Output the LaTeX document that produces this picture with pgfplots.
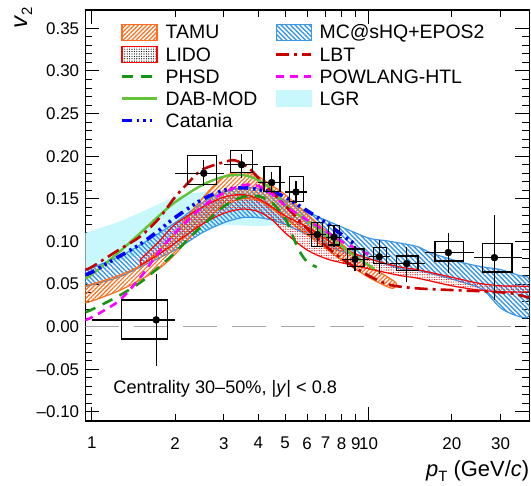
\documentclass[border=0pt]{standalone}
\usepackage{pgfplots}
\pgfplotsset{compat=1.18}
\usepackage{fontspec}
\setmainfont{Liberation Sans}
\usetikzlibrary{patterns.meta}

\definecolor{tamu}{RGB}{255,110,30}
\definecolor{lido}{RGB}{255,0,0}
\definecolor{phsd}{RGB}{20,150,20}
\definecolor{dab}{RGB}{98,195,55}
\definecolor{catania}{RGB}{0,0,255}
\definecolor{mcshq}{RGB}{60,150,232}
\definecolor{lbt}{RGB}{200,0,0}
\definecolor{powlang}{RGB}{255,0,255}
\definecolor{lgr}{RGB}{200,248,252}

\tikzset{
  phsdline/.style={phsd, line width=2.6bp, dash pattern=on 11bp off 8bp},
  dabline/.style={dab, line width=2.4bp},
  catanialine/.style={catania, line width=3.6bp, dash pattern=on 10bp off 5bp on 2.5bp off 4bp on 2.5bp off 4bp on 2.5bp off 5bp},
  lbtline/.style={lbt, line width=2.6bp, dash pattern=on 13bp off 5bp on 3bp off 5bp},
  powline/.style={powlang, line width=2.6bp, dash pattern=on 8bp off 6bp},
}

\begin{document}
\begin{tikzpicture}
\begin{axis}[
  name=ax,
  scale only axis,
  width=444bp, height=411bp,
  xmode=log,
  xmin=0.948, xmax=38.1,
  ymin=-0.1106, ymax=0.3715,
  xtick={1,10}, xticklabels={1,10},
  extra x ticks={2,3,4,5,6,7,8,9,20,30},
  extra x tick labels={2,3,4,5,6,7,8,9,20,30},
  extra x tick style={major tick length=7bp},
  minor xtick={},
  ytick={-0.10,-0.05,0,0.05,0.10,0.15,0.20,0.25,0.30,0.35},
  yticklabels={–0.10,–0.05,0.00,0.05,0.10,0.15,0.20,0.25,0.30,0.35},
  minor y tick num=4,
  major tick length=14bp, minor tick length=7bp,
  tick style={black, line width=1bp},
  axis line style={line width=1.5bp},
  tick label style={font=\fontsize{17}{20}\selectfont, inner sep=0pt},
  xticklabel style={yshift=-16bp},
  yticklabel style={xshift=-6bp},
  legend columns=2,
  legend cell align=left,
  legend image code/.code={\draw[#1] (0bp,0bp) -- (35bp,0bp);},
  legend style={draw=none, fill=none, at={(0.078,0.967)}, anchor=north west,
    inner sep=0pt, font=\fontsize{19.5}{21}\selectfont,
    row sep=5bp, column sep=7bp,
    /tikz/column 2/.style={column sep=17.5bp},
    nodes={inner sep=0pt, text height=15bp, text depth=2bp}},
]

% legend (row-wise: left column, right column)
\addlegendimage{legend image code/.code={\draw[pattern={Lines[angle=45,distance=3bp,line width=1.2bp]}, pattern color=tamu, draw=tamu, line width=1.2bp] (0bp,-8bp) rectangle (35bp,8bp);}}
\addlegendentry{TAMU}
\addlegendimage{legend image code/.code={\draw[pattern={Lines[angle=-45,distance=3.3bp,line width=1.4bp]}, pattern color=mcshq, draw=mcshq, line width=1.2bp] (0bp,-8bp) rectangle (35bp,8bp);}}
\addlegendentry{MC@sHQ+EPOS2}
\addlegendimage{legend image code/.code={\draw[pattern={Dots[distance=2.4bp,radius=0.6bp]}, pattern color=black, draw=lido, line width=1.2bp] (0bp,-8bp) rectangle (35bp,8bp);}}
\addlegendentry{LIDO}
\addlegendimage{lbtline}
\addlegendentry{LBT}
\addlegendimage{phsdline}
\addlegendentry{PHSD}
\addlegendimage{powline}
\addlegendentry{POWLANG-HTL}
\addlegendimage{dabline}
\addlegendentry{DAB-MOD}
\addlegendimage{legend image code/.code={\fill[lgr] (0bp,-8bp) rectangle (35bp,8bp);}}
\addlegendentry{LGR}
\addlegendimage{catanialine}
\addlegendentry{Catania}

% zero line
\addplot[gray!70, line width=1.3bp, dash pattern=on 34bp off 15bp] coordinates {(0.948,0) (38.1,0)};

% LGR band
\addplot[fill=lgr, draw=none, smooth, tension=0.5] coordinates {
  (0.948,0.110) (1.25,0.123) (1.5,0.134) (2,0.152) (2.5,0.158) (3,0.160) (4,0.156) (4.7,0.150) (5.0,0.146)
  (5.0,0.120) (4.5,0.119) (4,0.118) (3,0.119) (2.5,0.112) (2,0.100) (1.5,0.085) (1.2,0.075) (0.948,0.066)
} -- cycle;

% MC@sHQ+EPOS2 band
\addplot[pattern={Lines[angle=-45,distance=3.3bp,line width=1.4bp]}, pattern color=mcshq, draw=mcshq, line width=1.2bp, smooth, tension=0.5] coordinates {
  (0.948,0.067) (1,0.069) (1.25,0.082) (1.5,0.096) (2,0.122) (2.5,0.145) (3,0.158) (3.5,0.163) (4,0.162)
  (4.5,0.156) (5,0.148) (6,0.135) (7,0.125) (8,0.117) (10,0.104) (11.5,0.101) (13,0.098) (15,0.094)
  (17,0.086) (22,0.075) (26,0.070) (30,0.067) (35,0.060) (38.1,0.055)
  (38.1,0.014) (35,0.012) (30,0.022) (26,0.043) (22,0.052) (17,0.062) (15,0.066) (13,0.068) (10,0.080)
  (8,0.088) (7,0.097) (6,0.108) (5,0.120) (4.5,0.125) (4,0.128) (3.5,0.128) (3,0.122) (2.5,0.110)
  (2,0.090) (1.5,0.070) (1.25,0.058) (1,0.049) (0.948,0.047)
} -- cycle;

% TAMU band
\addplot[pattern={Lines[angle=45,distance=3bp,line width=1.2bp]}, pattern color=tamu, draw=tamu, line width=1.2bp, smooth, tension=0.5] coordinates {
  (0.948,0.048) (1,0.050) (1.25,0.060) (1.5,0.072) (1.75,0.090) (2,0.110) (2.5,0.150) (3,0.176)
  (3.5,0.181) (4,0.176) (4.5,0.165) (5,0.155) (6,0.132) (7,0.113) (8,0.097) (10,0.072) (11.5,0.060) (12.6,0.051)
  (12.3,0.045) (11.5,0.048) (10,0.058) (8,0.078) (7,0.092) (6,0.108) (5,0.127) (4.5,0.138) (4,0.148)
  (3.5,0.150) (3,0.142) (2.5,0.120) (2,0.085) (1.75,0.068) (1.5,0.055) (1.25,0.042) (1,0.030) (0.948,0.028)
} -- cycle;

% LIDO band
\addplot[pattern={Dots[distance=2.4bp,radius=0.6bp]}, pattern color=lido, draw=lido, line width=1.2bp, smooth, tension=0.5] coordinates {
  (1.5,0.079) (1.75,0.100) (2,0.120) (2.5,0.140) (3,0.152) (3.5,0.155) (4,0.150) (4.5,0.140) (5,0.130)
  (6,0.117) (7,0.103) (8,0.092) (10,0.080) (13,0.070) (15,0.067) (20,0.058) (25,0.051) (30,0.048) (38.1,0.047)
  (38.1,0.041) (30,0.041) (25,0.043) (20,0.048) (15,0.057) (13,0.060) (10,0.068) (8,0.075) (7,0.080)
  (6,0.090) (5,0.110) (4.5,0.125) (4,0.135) (3.5,0.138) (3,0.133) (2.5,0.120) (2,0.098) (1.75,0.085) (1.5,0.072)
} -- cycle;

% PHSD
\addplot[phsdline, smooth, tension=0.5] coordinates {
  (0.948,0.017) (1,0.020) (1.25,0.036) (1.5,0.052) (1.75,0.070) (2,0.087) (2.25,0.104) (2.5,0.118)
  (3,0.141) (3.5,0.152) (4,0.153) (4.5,0.145) (5,0.127) (5.3,0.108) (5.6,0.090) (6,0.076) (6.5,0.070)
};
% DAB-MOD
\addplot[dabline, smooth, tension=0.5] coordinates {
  (0.948,0.057) (1,0.061) (1.25,0.087) (1.5,0.110) (1.75,0.130) (2,0.146) (2.5,0.166) (3,0.176)
  (3.5,0.178) (4,0.172) (4.5,0.160) (5,0.143) (6,0.124) (7,0.108) (8,0.094) (9,0.082) (10.5,0.068)
};
% Catania
\addplot[catanialine, smooth, tension=0.5] coordinates {
  (0.948,0.061) (1,0.064) (1.25,0.082) (1.5,0.097) (1.75,0.113) (2,0.128) (2.5,0.149) (3,0.160)
  (3.5,0.163) (4,0.161) (4.5,0.158) (5,0.152) (6,0.136) (7,0.122) (8,0.108) (9,0.096)
};
% LBT
\addplot[lbtline, smooth, tension=0.5] coordinates {
  (0.948,0.067) (1,0.070) (1.25,0.090) (1.5,0.106) (1.75,0.127) (2,0.152) (2.25,0.170) (2.5,0.184)
  (3,0.193) (3.3,0.195) (3.7,0.186) (4.2,0.167) (5,0.142) (6,0.115) (7,0.095) (8,0.080) (10,0.060)
  (12,0.049) (15,0.045) (20,0.043) (28,0.041) (33,0.039) (38.1,0.034)
};
% POWLANG-HTL
\addplot[powline, smooth, tension=0.5] coordinates {
  (0.948,0.008) (1,0.011) (1.25,0.030) (1.5,0.058) (1.75,0.088) (2,0.110) (2.5,0.140) (3,0.157)
  (3.5,0.166) (4,0.165) (4.5,0.155) (5,0.142) (6,0.125) (7,0.112) (8,0.100) (9,0.092) (10,0.085)
};

% systematic boxes
\addplot[black, line width=1.3bp, line cap=rect, unbounded coords=jump] coordinates {
  (1.28,-0.0144) (1.88,-0.0144) (1.88,0.0313) (1.28,0.0313) (1.28,-0.0144) (nan,nan)
  (2.22,0.167) (2.83,0.167) (2.83,0.2006) (2.22,0.2006) (2.22,0.167) (nan,nan)
  (3.18,0.181) (3.80,0.181) (3.80,0.207) (3.18,0.207) (3.18,0.181) (nan,nan)
  (4.19,0.159) (4.79,0.159) (4.79,0.188) (4.19,0.188) (4.19,0.159) (nan,nan)
  (5.18,0.147) (5.82,0.147) (5.82,0.176) (5.18,0.176) (5.18,0.147) (nan,nan)
  (6.23,0.094) (6.82,0.094) (6.82,0.122) (6.23,0.122) (6.23,0.094) (nan,nan)
  (7.18,0.096) (7.84,0.096) (7.84,0.119) (7.18,0.119) (7.18,0.096) (nan,nan)
  (8.39,0.071) (9.62,0.071) (9.62,0.091) (8.39,0.091) (8.39,0.071) (nan,nan)
  (10.4,0.074) (11.6,0.074) (11.6,0.093) (10.4,0.093) (10.4,0.074) (nan,nan)
  (12.6,0.066) (15.1,0.066) (15.1,0.083) (12.6,0.083) (12.6,0.066) (nan,nan)
  (17.4,0.077) (22.1,0.077) (22.1,0.100) (17.4,0.100) (17.4,0.077) (nan,nan)
  (25.8,0.064) (33.0,0.064) (33.0,0.098) (25.8,0.098) (25.8,0.064)
};
% statistical error bars and bin widths
\addplot[black, line width=1.3bp, unbounded coords=jump] coordinates {
  (1,0.008) (2,0.008) (nan,nan) (1.71,-0.046) (1.71,0.062) (nan,nan)
  (2,0.180) (3,0.180) (nan,nan) (2.54,0.165) (2.54,0.1955) (nan,nan)
  (3,0.190) (4,0.190) (nan,nan) (3.48,0.175) (3.48,0.203) (nan,nan)
  (4,0.169) (5,0.169) (nan,nan) (4.47,0.157) (4.47,0.181) (nan,nan)
  (5,0.158) (6,0.158) (nan,nan) (5.47,0.145) (5.47,0.171) (nan,nan)
  (6,0.108) (7,0.108) (nan,nan) (6.53,0.094) (6.53,0.122) (nan,nan)
  (7,0.105) (8,0.105) (nan,nan) (7.51,0.093) (7.51,0.118) (nan,nan)
  (8,0.079) (10,0.079) (nan,nan) (8.94,0.065) (8.94,0.095) (nan,nan)
  (10,0.082) (12,0.082) (nan,nan) (10.94,0.062) (10.94,0.102) (nan,nan)
  (12,0.074) (16,0.074) (nan,nan) (13.74,0.053) (13.74,0.093) (nan,nan)
  (16,0.087) (24,0.087) (nan,nan) (19.43,0.063) (19.43,0.110) (nan,nan)
  (24,0.081) (36,0.081) (nan,nan) (28.5,0.031) (28.5,0.131)
};
% data points
\addplot[only marks, mark=*, mark size=3.5bp, black] coordinates {
  (1.71,0.008) (2.54,0.180) (3.48,0.190) (4.47,0.169) (5.47,0.158) (6.53,0.108)
  (7.51,0.105) (8.94,0.079) (10.94,0.082) (13.74,0.074) (19.43,0.087) (28.5,0.081)
};

\node[anchor=base west, inner sep=0pt, font=\fontsize{18.2}{20}\selectfont]
  at (rel axis cs:0.063,0.068) {Centrality 30–50\%, |\textit{y}| < 0.8};
\end{axis}

\node[rotate=90, anchor=east, inner sep=0pt, font=\fontsize{24}{24}\selectfont]
  at ([xshift=-62bp,yshift=3bp]ax.north west) {\textit{v}\raisebox{-5bp}{\fontsize{15}{15}\selectfont 2}};
\node[anchor=base east, inner sep=0pt, font=\fontsize{22}{24}\selectfont]
  at ([yshift=-55.5bp]ax.south east) {\textit{p}\raisebox{-4.5bp}{\fontsize{15}{15}\selectfont T} (GeV/\textit{c})};

\pgfresetboundingbox
\path ([shift={(-85.3bp,-65bp)}]ax.south west) rectangle ([shift={(1.7bp,10bp)}]ax.north east);
\end{tikzpicture}
\end{document}
